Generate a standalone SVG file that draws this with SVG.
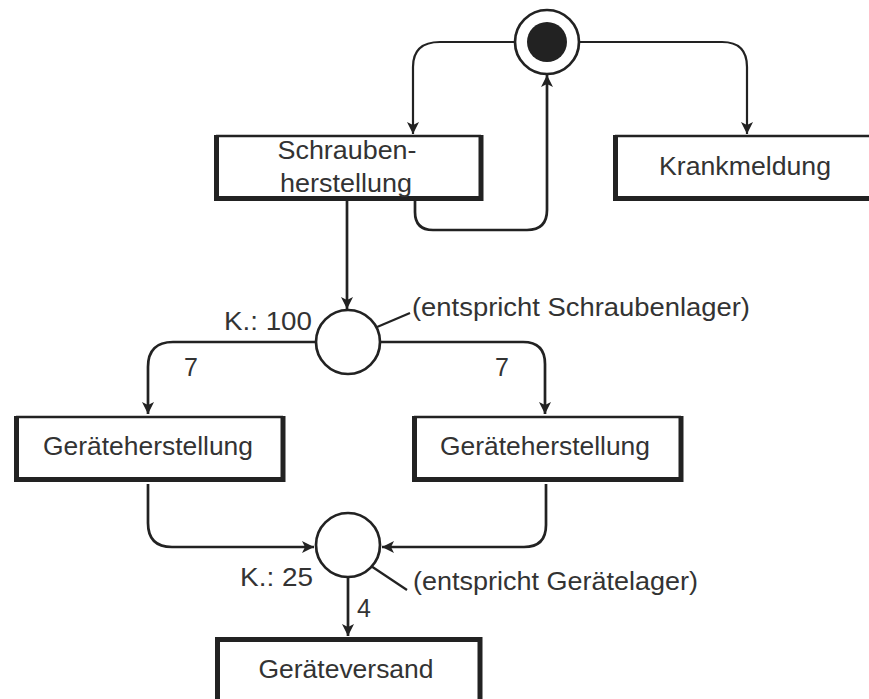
<svg xmlns="http://www.w3.org/2000/svg" width="869" height="699" viewBox="0 0 869 699">
<style>
.t{font-family:"Liberation Sans",Arial,sans-serif;font-size:25px;fill:#333}
.c{fill:none;stroke:#222;stroke-width:2.7}
.thin{fill:none;stroke:#222;stroke-width:2.2}
.bt{fill:none;stroke:#222;stroke-width:2.7}
.bs{fill:none;stroke:#222;stroke-width:5;stroke-linejoin:miter}
.p{fill:#fff;stroke:#222;stroke-width:2.7}
</style>
<defs>
<marker id="a" viewBox="0 0 12 12" refX="12" refY="6" markerWidth="12" markerHeight="12" markerUnits="userSpaceOnUse" orient="auto">
<path d="M0,0 L12,6 L0,12 L3,6 z" fill="#222"/>
</marker>
</defs>
<rect width="869" height="699" fill="#fff"/>
<g id="connectors">
<path class="thin" d="M515,42 H440 Q413,42 413,67 V134" marker-end="url(#a)"/>
<path class="thin" d="M579,42 H722 Q747,42 747,67 V134" marker-end="url(#a)"/>
<path class="c" d="M415,201 V212 Q415,230 433,230 H527 Q547,230 547,210 V75" marker-end="url(#a)"/>
<path class="c" d="M347,201 V309" marker-end="url(#a)"/>
<path class="c" d="M316,342 H173 Q148,342 148,367 V414" marker-end="url(#a)"/>
<path class="c" d="M380,342 H523 Q545,342 545,364 V414" marker-end="url(#a)"/>
<path class="c" d="M148,484 V523 Q148,547 172,547 H314" marker-end="url(#a)"/>
<path class="c" d="M546,484 V525 Q546,547 524,547 H382" marker-end="url(#a)"/>
<path class="c" d="M348,577 V636" marker-end="url(#a)"/>
<path class="thin" d="M363,333 L410,313"/>
<path class="thin" d="M365,562 L407,590"/>
</g>
<g id="start">
<circle cx="547" cy="42" r="32" fill="#fff" stroke="#222" stroke-width="2.7"/>
<circle cx="547" cy="42" r="20" fill="#222"/>
</g>
<g id="schraubenherstellung">
<rect x="216" y="135" width="264" height="63" fill="#fff"/>
<path class="bt" d="M216,136 H481"/>
<path class="bs" d="M216.5,135 V198.5 H481 V135"/>
<text class="t" x="347" y="159" text-anchor="middle" textLength="139" lengthAdjust="spacingAndGlyphs">Schrauben-</text>
<text class="t" x="346" y="192" text-anchor="middle" textLength="132" lengthAdjust="spacingAndGlyphs">herstellung</text>
</g>
<g id="krankmeldung">
<rect x="615" y="135" width="270" height="63" fill="#fff"/>
<path class="bt" d="M615,136 H885"/>
<path class="bs" d="M615.5,135 V198.5 H885"/>
<text class="t" x="745" y="175" text-anchor="middle" textLength="172" lengthAdjust="spacingAndGlyphs">Krankmeldung</text>
</g>
<g id="schraubenlager">
<circle class="p" cx="348" cy="342" r="32"/>
<text class="t" x="312" y="330" text-anchor="end" textLength="88" lengthAdjust="spacingAndGlyphs">K.: 100</text>
<text class="t" x="191" y="376" text-anchor="middle">7</text>
<text class="t" x="502" y="376" text-anchor="middle">7</text>
<text class="t" x="412" y="316" textLength="338" lengthAdjust="spacingAndGlyphs">(entspricht Schraubenlager)</text>
</g>
<g id="geraeteherstellung1">
<rect x="16" y="416" width="267" height="63" fill="#fff"/>
<path class="bt" d="M16,417 H283"/>
<path class="bs" d="M16.5,416 V479.5 H283 V416"/>
<text class="t" x="148" y="455" text-anchor="middle" textLength="210" lengthAdjust="spacingAndGlyphs">Geräteherstellung</text>
</g>
<g id="geraeteherstellung2">
<rect x="414" y="416" width="267" height="63" fill="#fff"/>
<path class="bt" d="M414,417 H681"/>
<path class="bs" d="M414.5,416 V479.5 H681 V416"/>
<text class="t" x="545" y="455" text-anchor="middle" textLength="210" lengthAdjust="spacingAndGlyphs">Geräteherstellung</text>
</g>
<g id="geraetelager">
<circle class="p" cx="348" cy="545" r="32"/>
<text class="t" x="313" y="586" text-anchor="end" textLength="73" lengthAdjust="spacingAndGlyphs">K.: 25</text>
<text class="t" x="364" y="617" text-anchor="middle">4</text>
<text class="t" x="413" y="590" textLength="285" lengthAdjust="spacingAndGlyphs">(entspricht Gerätelager)</text>
</g>
<g id="geraeteversand">
<rect x="217" y="639" width="263" height="70" fill="#fff"/>
<path class="bs" d="M217.5,710 V639.5 H480 V710"/>
<text class="t" x="346" y="678" text-anchor="middle" textLength="175" lengthAdjust="spacingAndGlyphs">Geräteversand</text>
</g>
</svg>
